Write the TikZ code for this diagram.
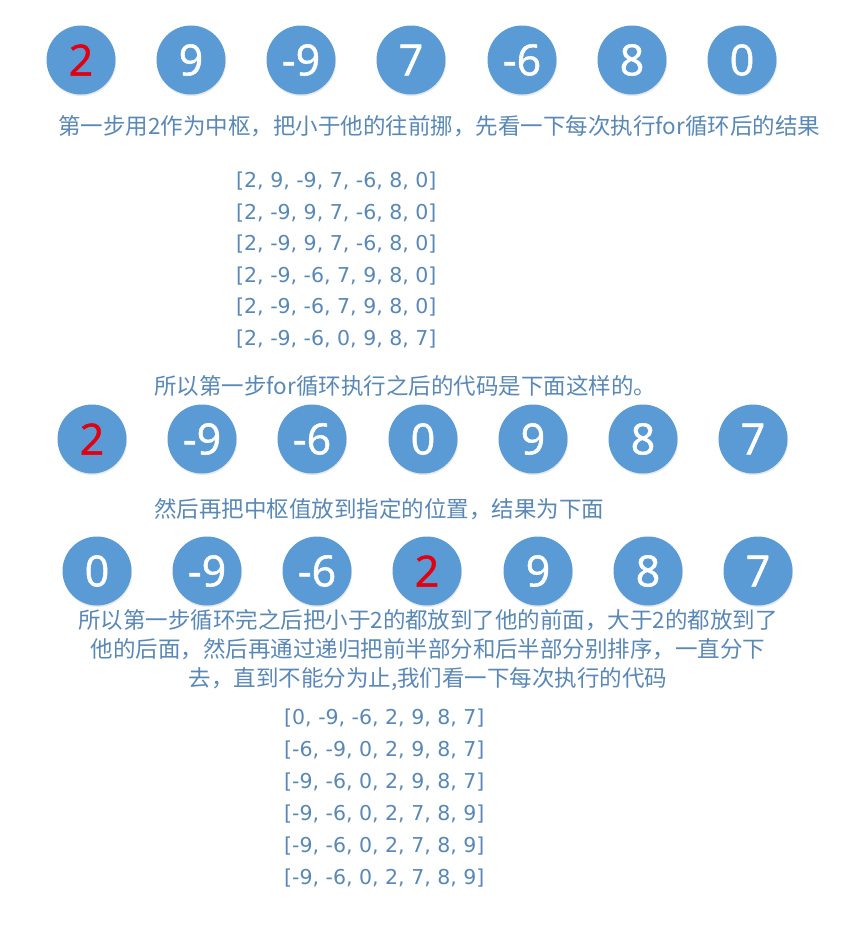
\documentclass[tikz,border=0pt]{standalone}
\usepackage{fontspec}
\setmainfont{Open Sans}
\newfontfamily\ballfont[FakeBold=1.2]{Open Sans}
\newfontfamily\cjk{Noto Sans CJK SC}
\newfontfamily\arrfont{DejaVu Sans}
\usetikzlibrary{shadows}
\definecolor{ballblue}{HTML}{5B9BD5}
\definecolor{txtblue}{HTML}{5A88B6}
\definecolor{pivotred}{HTML}{E3000F}
\begin{document}
\begin{tikzpicture}[x=1pt,y=-1pt,
  ball/.style={circle, fill=ballblue, minimum size=69pt, inner sep=0pt, text=white,
    font=\ballfont\fontsize{43}{43}\selectfont,
    drop shadow={opacity=0.18, shadow xshift=0.6pt, shadow yshift=-1.6pt}},
  pivot/.style={text=pivotred},
  cjktext/.style={inner sep=0pt, text=txtblue, font=\cjk\fontsize{22.5}{29}\selectfont},
  arrline/.style={anchor=west, inner sep=0pt, text=txtblue, font=\arrfont\fontsize{20.5}{20.5}\selectfont}]
\useasboundingbox[fill=white] (0,0) rectangle (859,929);

% row 1
\node[ball,pivot] (a1) at (81,60) {2};
\node[ball] (a2) at (191,60) {9};
\node[ball] (a3) at (301,60) {-9};
\node[ball] (a4) at (411,60) {7};
\node[ball] (a5) at (522,60) {-6};
\node[ball] (a6) at (632,60) {8};
\node[ball] (a7) at (742,60) {0};

\node[cjktext, anchor=west] (t1) at (58,126) {第一步用2作为中枢，把小于他的往前挪，先看一下每次执行for循环后的结果};

\foreach \s [count=\k from 0] in {{[2, 9, -9, 7, -6, 8, 0]},{[2, -9, 9, 7, -6, 8, 0]},{[2, -9, 9, 7, -6, 8, 0]},{[2, -9, -6, 7, 9, 8, 0]},{[2, -9, -6, 7, 9, 8, 0]},{[2, -9, -6, 0, 9, 8, 7]}}
  \node[arrline] (l1\k) at (236,{181+31.6*\k}) {\s};

\node[cjktext, anchor=west] (t2) at (154,386) {所以第一步for循环执行之后的代码是下面这样的。};

% row 2
\node[ball,pivot] (b1) at (92,439) {2};
\node[ball] (b2) at (202,439) {-9};
\node[ball] (b3) at (312,439) {-6};
\node[ball] (b4) at (423,439) {0};
\node[ball] (b5) at (533,439) {9};
\node[ball] (b6) at (643,439) {8};
\node[ball] (b7) at (753,439) {7};

\node[cjktext, anchor=west] (t3) at (154,509) {然后再把中枢值放到指定的位置，结果为下面};

% row 3
\node[ball] (c1) at (97,571) {0};
\node[ball] (c2) at (207,571) {-9};
\node[ball] (c3) at (317,571) {-6};
\node[ball,pivot] (c4) at (427,571) {2};
\node[ball] (c5) at (538,571) {9};
\node[ball] (c6) at (648,571) {8};
\node[ball] (c7) at (758,571) {7};

\node[cjktext, align=center] (t4) at (428,650) {所以第一步循环完之后把小于2的都放到了他的前面，大于2的都放到了\\他的后面，然后再通过递归把前半部分和后半部分别排序，一直分下\\去，直到不能分为止,我们看一下每次执行的代码};

\foreach \s [count=\k from 0] in {{[0, -9, -6, 2, 9, 8, 7]},{[-6, -9, 0, 2, 9, 8, 7]},{[-9, -6, 0, 2, 9, 8, 7]},{[-9, -6, 0, 2, 7, 8, 9]},{[-9, -6, 0, 2, 7, 8, 9]},{[-9, -6, 0, 2, 7, 8, 9]}}
  \node[arrline] (l2\k) at (284,{718+32*\k}) {\s};
\end{tikzpicture}
\end{document}
